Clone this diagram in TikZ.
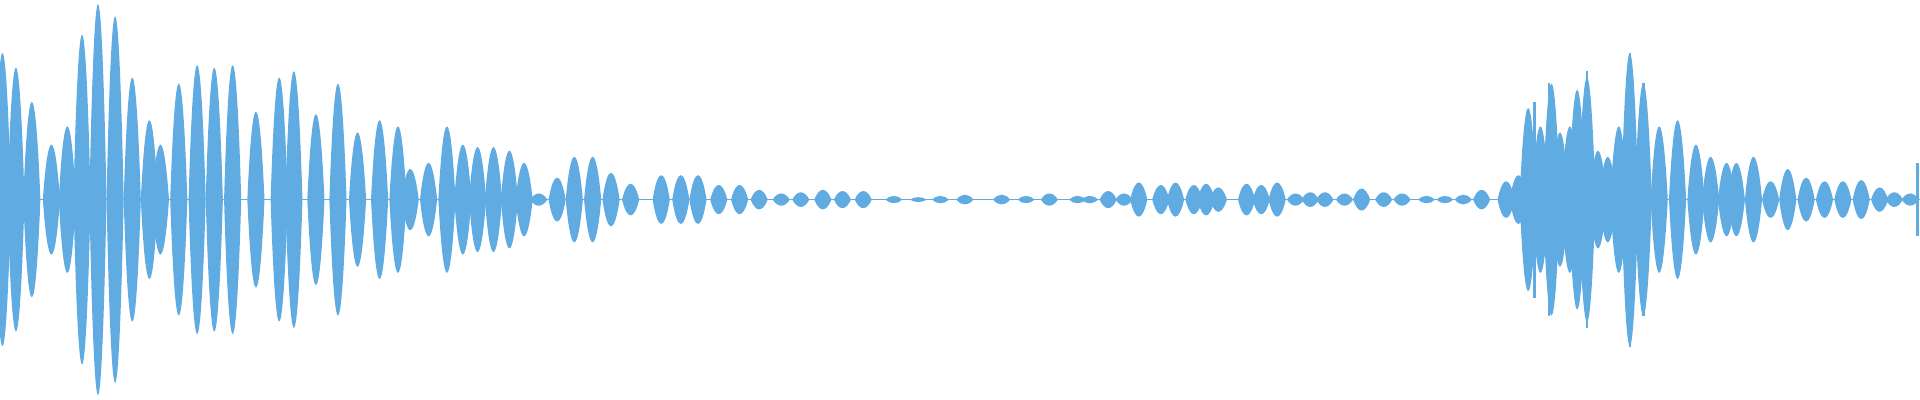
\documentclass[tikz,border=0pt]{standalone}
\definecolor{wave}{RGB}{96,172,226}
\tikzset{blob/.style={fill=wave,draw=none}}
\begin{document}
\begin{tikzpicture}[x=0.5pt,y=0.5pt]
  \useasboundingbox (0,-163) rectangle (1568,163);
  % centre line
  \draw[wave,line width=0.6pt] (0,0) -- (1568,0);
  % wave packets: centre / amplitude
  \foreach \x/\a in {
      2/120,13/108,26/80,42/45,55/60,67/135,80/160,94/150,108/100,122/65,
      131/45,146/95,161/110,175/108,190/110,209/72,228/100,240/105,258/70,
      276/95,292/55,310/65,325/60,335/25,350/30,365/60,378/45,390/43,403/43,
      416/40,428/30,440/5,455/18,469/35,484/35,499/22,515/13,540/20,556/20,
      570/20,587/12,604/12,620/8,638/5,654/6,672/8,688/7,705/7,730/3,750/2,
      768/3,788/4,818/4,838/3,857/5,880/3,890/3,905/7,918/5,930/14,948/12,
      960/14,975/12,985/13,995/10,1018/13,1030/12,1043/14,1058/5,1070/6,
      1082/6,1098/5,1112/9,1130/6,1145/5,1165/3,1180/3,1195/4,1210/8,1230/15,
      1240/20,1248/75,1258/60,1267/95,1274/55,1282/60,1288/90,1296/100,
      1305/40,1313/35,1322/60,1331/120,1342/95,1355/60,1370/65,1385/45,
      1397/35,1410/30,1418/30,1432/35,1446/15,1460/25,1475/18,1490/15,
      1505/15,1520/16,1535/10,1547/6,1560/5}
    \fill[blob] (\x-7,0) .. controls (\x-2.8,\a*1.33) and (\x+2.8,\a*1.33) .. (\x+7,0)
                         .. controls (\x+2.8,-\a*1.33) and (\x-2.8,-\a*1.33) .. cycle;
  % thin spikes
  \foreach \x/\a in {1253/80,1265/95,1296/105,1331/120,1342/95,1566/30}
    \draw[wave,line width=1pt] (\x,-\a) -- (\x,\a);
\end{tikzpicture}
\end{document}
